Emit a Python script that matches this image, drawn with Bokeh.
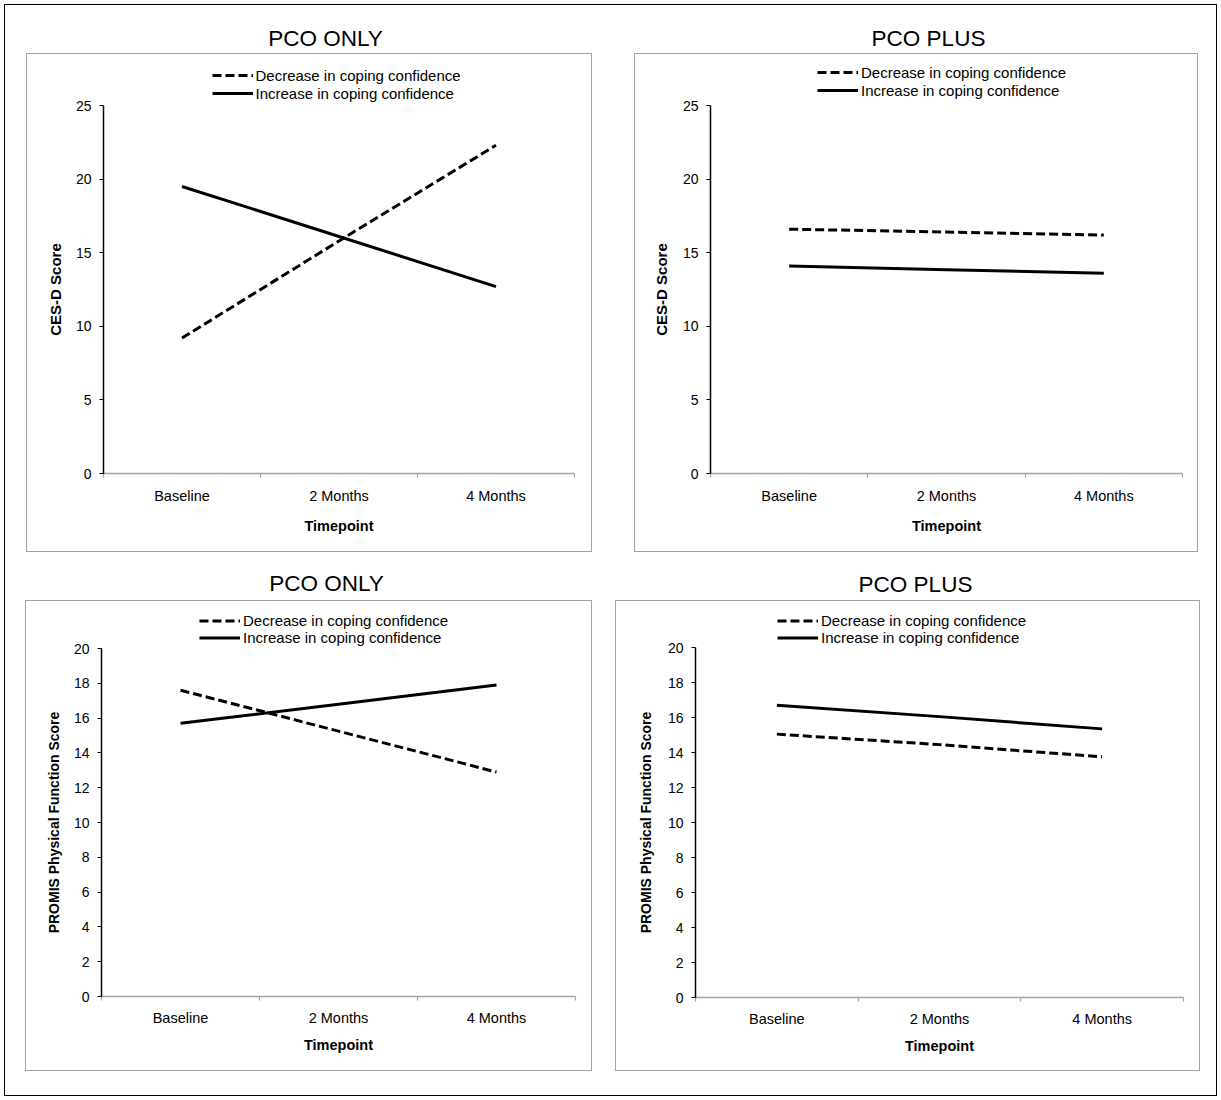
import math
from bokeh.plotting import figure
from bokeh.layouts import column, row
from bokeh.models import (Range1d, FixedTicker, Legend, LegendItem, Label, LinearAxis, Spacer)
from bokeh.embed import file_html
from bokeh.resources import INLINE

# ---------------- data ----------------
timepoints = ["Baseline", "2 Months", "4 Months"]
series_names = ["Decrease in coping confidence", "Increase in coping confidence"]

cesd_only_decrease = [9.2, 15.8, 22.3]
cesd_only_increase = [19.5, 16.1, 12.7]
cesd_plus_decrease = [16.6, 16.4, 16.2]
cesd_plus_increase = [14.1, 13.85, 13.6]

promis_only_decrease = [17.6, 15.25, 12.9]
promis_only_increase = [15.7, 16.8, 17.9]
promis_plus_decrease = [15.05, 14.45, 13.75]
promis_plus_increase = [16.7, 16.05, 15.35]

cesd_ticks = [0, 5, 10, 15, 20, 25]
promis_ticks = [0, 2, 4, 6, 8, 10, 12, 14, 16, 18, 20]

titles = ["PCO ONLY", "PCO PLUS", "PCO ONLY", "PCO PLUS"]
y_labels = ["CES-D Score", "PROMIS Physical Function Score"]
x_label = "Timepoint"

FONT = "Liberation Sans"
GRAY = "#a3a3a3"


def blank_fig(W, H, bottom=0):
    p = figure(width=W, height=H, output_backend="svg", toolbar_location=None,
               title=None, x_range=Range1d(0, 1), y_range=Range1d(0, 1),
               min_border_left=0, min_border_right=0, min_border_top=0,
               min_border_bottom=bottom, x_axis_type=None, y_axis_type=None)
    p.outline_line_color = None
    p.xgrid.visible = False
    p.ygrid.visible = False
    p.background_fill_alpha = 0
    p.border_fill_alpha = 0
    return p


def title_strip(W, H, items):
    p = blank_fig(W, H)
    for text, x, y in items:
        p.add_layout(Label(x=x, y=y, x_units="screen", y_units="screen", text=text,
                           text_align="center", text_baseline="middle",
                           text_font=FONT, text_font_size="22.5px", text_color="black"))
    return p


def panel(dec, inc, yticks, ylabel, W, H, strip_w, lab_x, fl, fr, axis_top, fb,
          leg_xy, row_h, xtick_standoff, xlab_standoff, ylab_size):
    """W, H: size of the grey panel box.  axis_top: px from box top to top of value axis."""
    n = len(timepoints)
    xs = [i + 0.5 for i in range(n)]
    ymin, ymax = yticks[0], yticks[-1]
    axis_h = H - fb - axis_top

    # value-axis title, centred on the value axis (kept in its own strip whose
    # frame has the same bottom as the chart frame)
    strip = blank_fig(strip_w, H, bottom=fb)
    strip.add_layout(Label(x=lab_x, y=axis_h / 2, x_units="screen", y_units="screen",
                           text=ylabel, angle=math.pi / 2, text_align="center",
                           text_baseline="middle", text_font=FONT,
                           text_font_style="bold", text_font_size=ylab_size,
                           text_color="black"))

    # the frame reaches the box top so the legend above the axis stays inside it
    y_end = ymin + (ymax - ymin) * (H - fb) / axis_h
    p = figure(width=W - strip_w, height=H, output_backend="svg", toolbar_location=None,
               title=None,
               x_range=Range1d(0, n), y_range=Range1d(ymin, y_end),
               min_border_left=fl - strip_w, min_border_right=fr, min_border_top=0,
               min_border_bottom=fb, x_axis_type=None, y_axis_type=None)
    p.outline_line_color = None
    p.xgrid.visible = False
    p.ygrid.visible = False
    p.background_fill_alpha = 0
    p.border_fill_alpha = 0

    ya = LinearAxis(ticker=FixedTicker(ticks=yticks), bounds=(ymin, ymax))
    ya.axis_line_color = "black"
    ya.axis_line_width = 1.5
    ya.major_tick_line_color = "black"
    ya.major_tick_line_width = 1.2
    ya.major_tick_out = 4
    ya.major_tick_in = 0
    ya.minor_tick_line_color = None
    ya.major_label_standoff = 8
    ya.major_label_text_font = FONT
    ya.major_label_text_font_size = "14px"
    ya.major_label_text_color = "black"
    p.add_layout(ya, "left")

    # category axis: labels at category centres, ticks at category boundaries
    xa = LinearAxis(ticker=FixedTicker(ticks=xs, minor_ticks=list(range(n + 1))))
    xa.major_label_overrides = {x: t for x, t in zip(xs, timepoints)}
    xa.axis_line_color = GRAY
    xa.axis_line_width = 1.5
    xa.major_tick_line_color = None
    xa.major_tick_out = 0
    xa.major_tick_in = 0
    xa.minor_tick_line_color = GRAY
    xa.minor_tick_line_width = 1.2
    xa.minor_tick_out = 4
    xa.minor_tick_in = 0
    xa.major_label_standoff = xtick_standoff
    xa.major_label_text_font = FONT
    xa.major_label_text_font_size = "14.5px"
    xa.major_label_text_color = "black"
    xa.axis_label = x_label
    xa.axis_label_text_font = FONT
    xa.axis_label_text_font_style = "bold"
    xa.axis_label_text_font_size = "14.5px"
    xa.axis_label_text_color = "black"
    xa.axis_label_standoff = xlab_standoff
    p.add_layout(xa, "below")

    r_dec = p.line(xs, dec, line_color="black", line_width=3, line_dash="9 4")
    r_inc = p.line(xs, inc, line_color="black", line_width=3)

    legend = Legend(items=[LegendItem(label=series_names[0], renderers=[r_dec]),
                           LegendItem(label=series_names[1], renderers=[r_inc])],
                    location=leg_xy)
    legend.border_line_color = None
    legend.background_fill_alpha = 0
    legend.padding = 0
    legend.margin = 0
    legend.spacing = 0
    legend.glyph_width = 41
    legend.glyph_height = row_h
    legend.label_height = row_h
    legend.label_standoff = 3
    legend.label_text_font = FONT
    legend.label_text_font_size = "15px"
    legend.label_text_color = "black"
    p.add_layout(legend)

    return row(strip, p, spacing=0,
               styles={"outline": "1.5px solid " + GRAY, "outline-offset": "-1.5px"})


t1 = title_strip(1221, 53, [(titles[0], 325, 15), (titles[1], 928, 15)])

p1 = panel(cesd_only_decrease, cesd_only_increase, cesd_ticks, y_labels[0],
           566, 499, 42, 29, 77, 18, 52, 79, (108.5, 371), 18, 10, 11, "15px")
p2 = panel(cesd_plus_decrease, cesd_plus_increase, cesd_ticks, y_labels[0],
           564, 499, 42, 27, 76, 16, 52, 79, (107, 374), 18, 10, 11, "15px")

t2 = title_strip(1221, 48, [(titles[2], 326, 17), (titles[3], 915, 16)])

p3 = panel(promis_only_decrease, promis_only_increase, promis_ticks, y_labels[1],
           567, 471, 42, 28, 76, 17, 48, 75, (98, 350.5), 17, 9, 8, "14px")
p4 = panel(promis_plus_decrease, promis_plus_increase, promis_ticks, y_labels[1],
           585, 471, 42, 30, 80, 17, 47, 74, (82, 351.5), 17, 9, 8, "14px")

top = row(Spacer(width=26, height=499), p1, Spacer(width=42, height=499), p2,
          Spacer(width=23, height=499), spacing=0)
bottom = row(Spacer(width=25, height=471), p3, Spacer(width=23, height=471), p4,
             Spacer(width=21, height=471), spacing=0)

layout = column(t1, top, t2, bottom, Spacer(width=1221, height=29), spacing=0,
                styles={"outline": "1.6px solid black", "outline-offset": "-5px"})

open("out.html", "w").write(file_html(layout, INLINE))
